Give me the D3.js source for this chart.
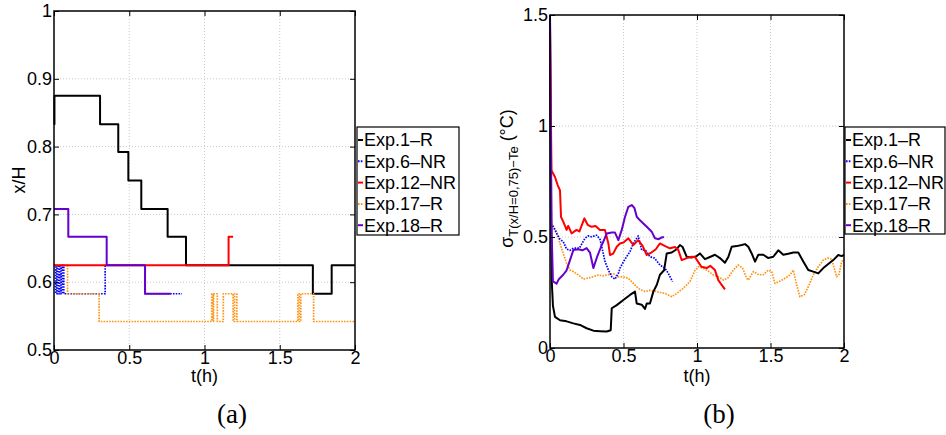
<!DOCTYPE html>
<html><head><meta charset="utf-8">
<script src="https://cdn.jsdelivr.net/npm/d3@7"></script>
<style>
body{margin:0;background:#fff}
svg{display:block}
text{font-family:"Liberation Sans",Arial,Helvetica,sans-serif;fill:#000}
text.cap{font-family:"Liberation Serif","DejaVu Serif","Times New Roman",serif}
</style>
</head><body>
<svg id="chart" width="946" height="435"></svg>
<script>
// ---------- series / legend ----------
const seriesNames  = ["Exp.1–R","Exp.6–NR","Exp.12–NR","Exp.17–R","Exp.18–R"];
const seriesColors = ["#000000","#0000ff","#ff0000","#ff9414","#6600cc"];
const seriesDashed = [false, true, false, true, false];

// ---------- panel (a): x/H vs t(h), step series ----------
const posTickX = [0, 0.5, 1, 1.5, 2];
const posTickXLabels = ["0","0.5","1","1.5","2"];
const posTickY = [0.5, 0.6, 0.7, 0.8, 0.9, 1];
const posTickYLabels = ["0.5","0.6","0.7","0.8","0.9","1"];

const posExp1T  = [0, 0.003, 0.306, 0.427, 0.494, 0.58, 0.755, 0.877, 1.72, 1.845, 2.0];
const posExp1V  = [0.833, 0.875, 0.833, 0.792, 0.75, 0.708, 0.667, 0.625, 0.583, 0.625, 0.625];
const posExp6T  = [0, 0.012, 0.02, 0.03, 0.038, 0.047, 0.056, 0.065, 0.34, 0.605, 0.85];
const posExp6V  = [0.625, 0.583, 0.625, 0.583, 0.625, 0.583, 0.625, 0.583, 0.625, 0.583, 0.583];
const posExp12T = [0, 1.16, 1.19];
const posExp12V = [0.625, 0.667, 0.667];
const posExp17T = [0.015, 0.09, 0.3, 1.048, 1.055, 1.06, 1.085, 1.125, 1.19, 1.2, 1.215, 1.62, 1.63, 1.64, 1.725, 2.0];
const posExp17V = [0.625, 0.583, 0.542, 0.583, 0.542, 0.583, 0.542, 0.583, 0.542, 0.583, 0.542, 0.583, 0.542, 0.583, 0.542, 0.542];
const posExp18T = [0, 0.095, 0.35, 0.605, 0.775];
const posExp18V = [0.708, 0.667, 0.625, 0.583, 0.583];

// ---------- panel (b): sigma vs t(h) ----------
const sigTickX = [0, 0.5, 1, 1.5, 2];
const sigTickXLabels = ["0","0.5","1","1.5","2"];
const sigTickY = [0, 0.5, 1, 1.5];
const sigTickYLabels = ["0","0.5","1","1.5"];

const sigExp1T = [0, 0.005, 0.012, 0.02, 0.034, 0.068, 0.113, 0.159, 0.204, 0.249, 0.295, 0.340, 0.386, 0.413, 0.420, 0.454, 0.499, 0.544, 0.578, 0.590, 0.624, 0.646, 0.658, 0.680, 0.703, 0.726, 0.748, 0.776, 0.794, 0.828, 0.862, 0.884, 0.902, 0.930, 0.964, 0.998, 1.020, 1.054, 1.088, 1.122, 1.156, 1.190, 1.213, 1.236, 1.270, 1.304, 1.327, 1.349, 1.372, 1.395, 1.417, 1.451, 1.485, 1.519, 1.553, 1.587, 1.621, 1.655, 1.689, 1.723, 1.757, 1.791, 1.825, 1.859, 1.893, 1.927, 1.961, 1.984, 2.0];
const sigExp1V = [1.5, 0.7, 0.3, 0.19, 0.14, 0.125, 0.12, 0.111, 0.104, 0.089, 0.078, 0.076, 0.074, 0.08, 0.179, 0.193, 0.216, 0.239, 0.254, 0.2, 0.195, 0.176, 0.2, 0.2, 0.254, 0.284, 0.33, 0.35, 0.426, 0.43, 0.445, 0.464, 0.455, 0.411, 0.408, 0.414, 0.426, 0.4, 0.41, 0.42, 0.405, 0.384, 0.41, 0.456, 0.459, 0.464, 0.468, 0.456, 0.426, 0.389, 0.42, 0.42, 0.405, 0.411, 0.44, 0.42, 0.425, 0.43, 0.43, 0.39, 0.351, 0.344, 0.336, 0.36, 0.378, 0.396, 0.419, 0.414, 0.42];

const sigExp6T = [0.005, 0.022, 0.045, 0.068, 0.09, 0.113, 0.136, 0.159, 0.2, 0.238, 0.26, 0.283, 0.317, 0.34, 0.352, 0.374, 0.397, 0.42, 0.442, 0.465, 0.476, 0.5, 0.52, 0.544, 0.567, 0.6, 0.624, 0.65, 0.68, 0.71, 0.748, 0.782, 0.805, 0.834];
const sigExp6V = [0.56, 0.546, 0.516, 0.49, 0.479, 0.445, 0.44, 0.45, 0.45, 0.494, 0.505, 0.501, 0.508, 0.49, 0.456, 0.39, 0.351, 0.321, 0.31, 0.335, 0.36, 0.389, 0.41, 0.434, 0.471, 0.505, 0.441, 0.44, 0.411, 0.405, 0.374, 0.359, 0.336, 0.299];

const sigExp12T = [0, 0.01, 0.034, 0.052, 0.068, 0.075, 0.09, 0.113, 0.124, 0.147, 0.18, 0.2, 0.234, 0.256, 0.283, 0.31, 0.34, 0.374, 0.397, 0.408, 0.43, 0.454, 0.476, 0.5, 0.533, 0.567, 0.6, 0.63, 0.658, 0.69, 0.72, 0.748, 0.78, 0.816, 0.85, 0.873, 0.896, 0.93, 0.964, 0.986, 1.0, 1.03, 1.066, 1.09, 1.122, 1.145, 1.168, 1.19];
const sigExp12V = [1.45, 0.8, 0.77, 0.734, 0.71, 0.59, 0.569, 0.532, 0.55, 0.516, 0.532, 0.525, 0.584, 0.555, 0.546, 0.55, 0.532, 0.532, 0.471, 0.419, 0.425, 0.456, 0.471, 0.475, 0.494, 0.464, 0.486, 0.46, 0.419, 0.43, 0.445, 0.471, 0.46, 0.449, 0.455, 0.441, 0.396, 0.405, 0.411, 0.41, 0.396, 0.366, 0.36, 0.37, 0.351, 0.306, 0.284, 0.264];

const sigExp17T = [0.005, 0.022, 0.045, 0.068, 0.09, 0.113, 0.136, 0.159, 0.193, 0.227, 0.26, 0.295, 0.329, 0.36, 0.386, 0.43, 0.465, 0.5, 0.533, 0.567, 0.6, 0.646, 0.68, 0.72, 0.75, 0.782, 0.828, 0.86, 0.907, 0.952, 0.986, 1.009, 1.04, 1.07, 1.111, 1.145, 1.18, 1.21, 1.247, 1.281, 1.31, 1.338, 1.349, 1.383, 1.42, 1.451, 1.485, 1.508, 1.53, 1.56, 1.587, 1.633, 1.655, 1.678, 1.7, 1.73, 1.757, 1.791, 1.825, 1.859, 1.89, 1.916, 1.95, 1.965, 1.984, 2.0];
const sigExp17V = [0.56, 0.55, 0.524, 0.471, 0.426, 0.381, 0.351, 0.344, 0.329, 0.31, 0.315, 0.321, 0.329, 0.325, 0.329, 0.336, 0.32, 0.32, 0.314, 0.291, 0.269, 0.254, 0.26, 0.255, 0.25, 0.246, 0.231, 0.245, 0.269, 0.299, 0.35, 0.366, 0.36, 0.35, 0.329, 0.321, 0.306, 0.315, 0.351, 0.374, 0.36, 0.314, 0.306, 0.344, 0.33, 0.33, 0.351, 0.345, 0.291, 0.3, 0.309, 0.329, 0.351, 0.284, 0.231, 0.24, 0.276, 0.329, 0.366, 0.396, 0.405, 0.4, 0.321, 0.33, 0.389, 0.4];

const sigExp18T = [0, 0.005, 0.012, 0.02, 0.045, 0.06, 0.09, 0.113, 0.136, 0.159, 0.193, 0.22, 0.249, 0.272, 0.295, 0.32, 0.352, 0.37, 0.386, 0.42, 0.442, 0.465, 0.488, 0.51, 0.533, 0.556, 0.575, 0.59, 0.612, 0.635, 0.66, 0.692, 0.714, 0.74, 0.76, 0.775];
const sigExp18V = [1.5, 1.0, 0.5, 0.3, 0.29, 0.31, 0.33, 0.35, 0.396, 0.441, 0.445, 0.44, 0.45, 0.43, 0.36, 0.41, 0.464, 0.49, 0.516, 0.52, 0.52, 0.486, 0.532, 0.59, 0.636, 0.644, 0.63, 0.591, 0.575, 0.561, 0.545, 0.524, 0.494, 0.49, 0.498, 0.5];

// ---------- drawing ----------
const svg = d3.select("#chart");
const zip = (T, V) => T.map((t, i) => [t, V[i]]);

function panel(opt) {
  const x = d3.scaleLinear().domain([0, 2]).range(opt.xr);
  const y = d3.scaleLinear().domain(opt.yd).range(opt.yr);
  const g = svg.append("g");

  // grid
  g.append("g").selectAll("line").data(opt.xt.slice(1, -1)).join("line")
    .attr("x1", d => x(d)).attr("x2", d => x(d)).attr("y1", opt.yr[0]).attr("y2", opt.yr[1])
    .attr("stroke", "#c8c8c8").attr("stroke-width", 1).attr("stroke-dasharray", "1,2");
  g.append("g").selectAll("line").data(opt.yt.slice(1, -1)).join("line")
    .attr("y1", d => y(d)).attr("y2", d => y(d)).attr("x1", opt.xr[0]).attr("x2", opt.xr[1])
    .attr("stroke", "#c8c8c8").attr("stroke-width", 1).attr("stroke-dasharray", "1,2");

  // series
  const line = d3.line().x(d => x(d[0])).y(d => y(d[1])).curve(opt.curve);
  opt.order.forEach(k => {
    const s = opt.series[k];
    g.append("path").datum(zip(s[0], s[1]))
      .attr("d", line).attr("fill", "none")
      .attr("stroke", seriesColors[k])
      .attr("stroke-width", seriesDashed[k] ? 1.7 : 2)
      .attr("stroke-dasharray", seriesDashed[k] ? "1.6,1.2" : null)
      .attr("stroke-linejoin", "round");
  });

  // axes (inward ticks, matlab style)
  const bx = g.append("g").attr("transform", `translate(0,${opt.yr[0]})`)
    .call(d3.axisBottom(x).tickValues(opt.xt).tickFormat((d, i) => opt.xl[i]).tickSizeInner(-5).tickSizeOuter(0).tickPadding(1));
  const ly = g.append("g").attr("transform", `translate(${opt.xr[0]},0)`)
    .call(d3.axisLeft(y).tickValues(opt.yt).tickFormat((d, i) => opt.yl[i]).tickSizeInner(-5).tickSizeOuter(0).tickPadding(2));
  const tx = g.append("g").attr("transform", `translate(0,${opt.yr[1]})`)
    .call(d3.axisTop(x).tickValues(opt.xt).tickFormat("").tickSizeInner(-5).tickSizeOuter(0));
  const ry = g.append("g").attr("transform", `translate(${opt.xr[1]},0)`)
    .call(d3.axisRight(y).tickValues(opt.yt).tickFormat("").tickSizeInner(-5).tickSizeOuter(0));
  [bx, ly, tx, ry].forEach(a => {
    a.select(".domain").remove();
    a.selectAll(".tick line").attr("stroke", "#000").attr("stroke-width", 1);
    a.selectAll("text").attr("font-size", "18px").attr("fill", "#000");
  });

  // frame
  g.append("rect").attr("x", opt.xr[0]).attr("y", opt.yr[1])
    .attr("width", opt.xr[1] - opt.xr[0]).attr("height", opt.yr[0] - opt.yr[1])
    .attr("fill", "none").attr("stroke", "#000").attr("stroke-width", 1.5);

  // x label
  g.append("text").attr("x", (opt.xr[0] + opt.xr[1]) / 2).attr("y", 382)
    .attr("text-anchor", "middle").attr("font-size", "18px").text("t(h)");

  // panel caption
  g.append("text").attr("class", "cap").attr("x", opt.capX).attr("y", 423)
    .attr("text-anchor", "middle").attr("font-size", "27px").text(opt.cap);

  // legend
  const L = opt.leg;
  const lg = g.append("g");
  lg.append("rect").attr("x", L.x).attr("y", L.y).attr("width", L.w).attr("height", L.h)
    .attr("fill", "#fff").attr("stroke", "#000").attr("stroke-width", 1.2);
  seriesNames.forEach((n, i) => {
    const yy = L.y + 13 + i * 21.3;
    lg.append("line").attr("x1", L.x + 1).attr("x2", L.x + 6).attr("y1", yy).attr("y2", yy)
      .attr("stroke", seriesColors[i]).attr("stroke-width", 2)
      .attr("stroke-dasharray", seriesDashed[i] ? "1.6,1.2" : null);
    lg.append("text").attr("x", L.x + 7).attr("y", yy).attr("dy", "0.36em")
      .attr("font-size", "18px").text(n);
  });
  return g;
}

const ga = panel({
  xr: [54, 355], yd: [0.5, 1], yr: [350, 11],
  xt: posTickX, xl: posTickXLabels, yt: posTickY, yl: posTickYLabels,
  curve: d3.curveStepAfter,
  series: [[posExp1T, posExp1V], [posExp6T, posExp6V], [posExp12T, posExp12V], [posExp17T, posExp17V], [posExp18T, posExp18V]],
  order: [0, 1, 3, 2, 4],
  cap: "(a)", capX: 232,
  leg: {x: 357, y: 127, w: 102, h: 108}
});
ga.append("text").attr("transform", "translate(25,180) rotate(-90)")
  .attr("text-anchor", "middle").attr("font-size", "18px").text("x/H");

const gb = panel({
  xr: [550, 844], yd: [0, 1.5], yr: [348, 15],
  xt: sigTickX, xl: sigTickXLabels, yt: sigTickY, yl: sigTickYLabels,
  curve: d3.curveLinear,
  series: [[sigExp1T, sigExp1V], [sigExp6T, sigExp6V], [sigExp12T, sigExp12V], [sigExp17T, sigExp17V], [sigExp18T, sigExp18V]],
  order: [3, 1, 0, 2, 4],
  cap: "(b)", capX: 719,
  leg: {x: 845, y: 127, w: 100, h: 107}
});
const yl = gb.append("text").attr("transform", "translate(513,178.5) rotate(-90)")
  .attr("text-anchor", "middle");
yl.append("tspan").attr("font-size", "18px").text("σ");
yl.append("tspan").attr("font-size", "13px").attr("dy", 5).text("T(x/H=0,75)−Te");
yl.append("tspan").attr("font-size", "18px").attr("dy", -5).text(" (°C)");
</script>
</body></html>
